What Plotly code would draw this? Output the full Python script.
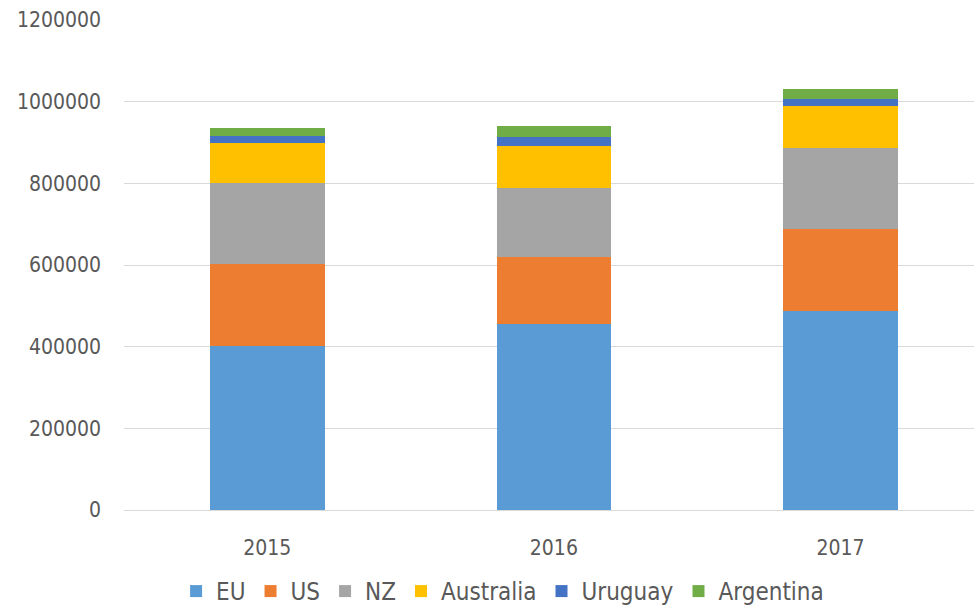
import plotly.graph_objects as go

years = ["2015", "2016", "2017"]
series_names = ["EU", "US", "NZ", "Australia", "Uruguay", "Argentina"]
eu = [402000, 455000, 488000]
us = [201000, 164000, 200000]
nz = [199000, 170000, 199000]
australia = [97000, 103000, 102000]
uruguay = [17000, 22000, 18000]
argentina = [20000, 27000, 25000]
colors = ["#5B9BD5", "#ED7D31", "#A5A5A5", "#FFC000", "#4472C4", "#70AD47"]
y_ticks = [0, 200000, 400000, 600000, 800000, 1000000, 1200000]

values = [eu, us, nz, australia, uruguay, argentina]
FONT = "DejaVu Sans Condensed, sans-serif"
FS = 21

fig = go.Figure()
for name, vals, col in zip(series_names, values, colors):
    fig.add_trace(go.Bar(x=years, y=vals, name=name, marker=dict(color=col, line=dict(width=0))))

fig.update_layout(
    barmode="stack",
    bargap=0.6,
    width=974, height=608,
    margin=dict(l=124, r=0, t=20, b=98, autoexpand=False),
    paper_bgcolor="white", plot_bgcolor="white",
    font=dict(family=FONT, size=FS, color="#595959"),
    legend=dict(orientation="h", xref="container", yref="paper",
                x=0.516, xanchor="center", y=-0.1663, yanchor="middle",
                traceorder="normal", itemclick=False,
                font=dict(size=24, color="#595959")),
    xaxis=dict(type="category", range=[-0.5, 2.466], showgrid=False, showline=False,
               ticks="", ticklabelstandoff=23, tickfont=dict(size=FS, color="#595959")),
    yaxis=dict(range=[0, 1200000], tickvals=y_ticks, ticktext=[str(v) for v in y_ticks],
               showgrid=True, gridcolor="#D9D9D9", gridwidth=1, zeroline=True,
               zerolinecolor="#D9D9D9", zerolinewidth=1, ticks="", ticklabelstandoff=22,
               tickfont=dict(size=FS, color="#595959")),
)
fig.write_html("out.html", config={"displayModeBar": False},
               post_script="document.body.style.margin='0';document.body.style.overflow='hidden';")
